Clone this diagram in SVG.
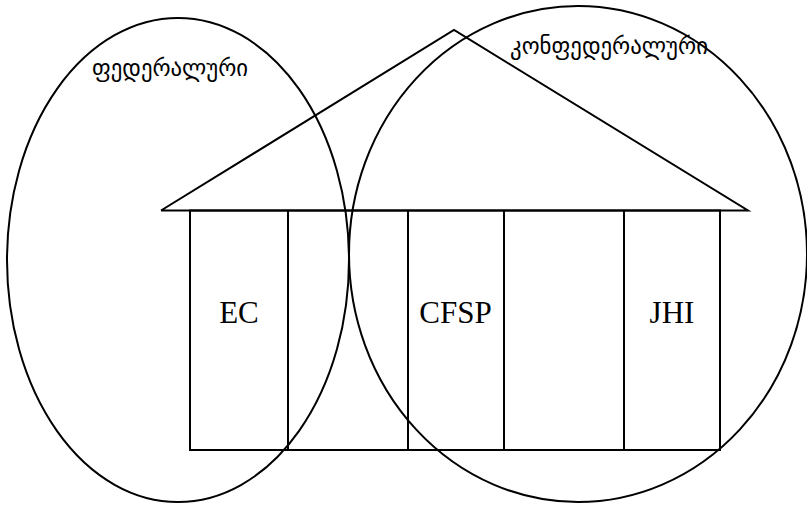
<svg xmlns="http://www.w3.org/2000/svg" width="807" height="505" viewBox="0 0 807 505">
<style>
.s{fill:none;stroke:#000;stroke-width:2}
.l{font-family:"Liberation Serif","Times New Roman",serif;font-size:31px;fill:#000;text-anchor:middle}
.g{font-family:"DejaVu Sans","Noto Sans",sans-serif;font-size:23px;fill:#000}
</style>
<rect width="807" height="505" fill="#fff"/>
<g id="federal">
<ellipse class="s" cx="178" cy="260" rx="171" ry="242"/>
<text class="g" x="92" y="76" textLength="156" lengthAdjust="spacingAndGlyphs">ფედერალური</text>
</g>
<g id="confederal">
<ellipse class="s" cx="578" cy="254" rx="229" ry="248"/>
<text class="g" x="510" y="54" textLength="198" lengthAdjust="spacingAndGlyphs">კონფედერალური</text>
</g>
<g id="house">
<polyline class="s" points="161,210.5 454,30 748,210.5 161,210.5"/>
<rect class="s" x="190" y="210.5" width="530" height="239.5"/>
<line class="s" x1="288" y1="210.5" x2="288" y2="450"/>
<line class="s" x1="408" y1="210.5" x2="408" y2="450"/>
<line class="s" x1="504" y1="210.5" x2="504" y2="450"/>
<line class="s" x1="624" y1="210.5" x2="624" y2="450"/>
</g>
<g id="labels">
<text class="l" x="239" y="323">EC</text>
<text class="l" x="455.5" y="323">CFSP</text>
<text class="l" x="672" y="323">JHI</text>
</g>
</svg>
